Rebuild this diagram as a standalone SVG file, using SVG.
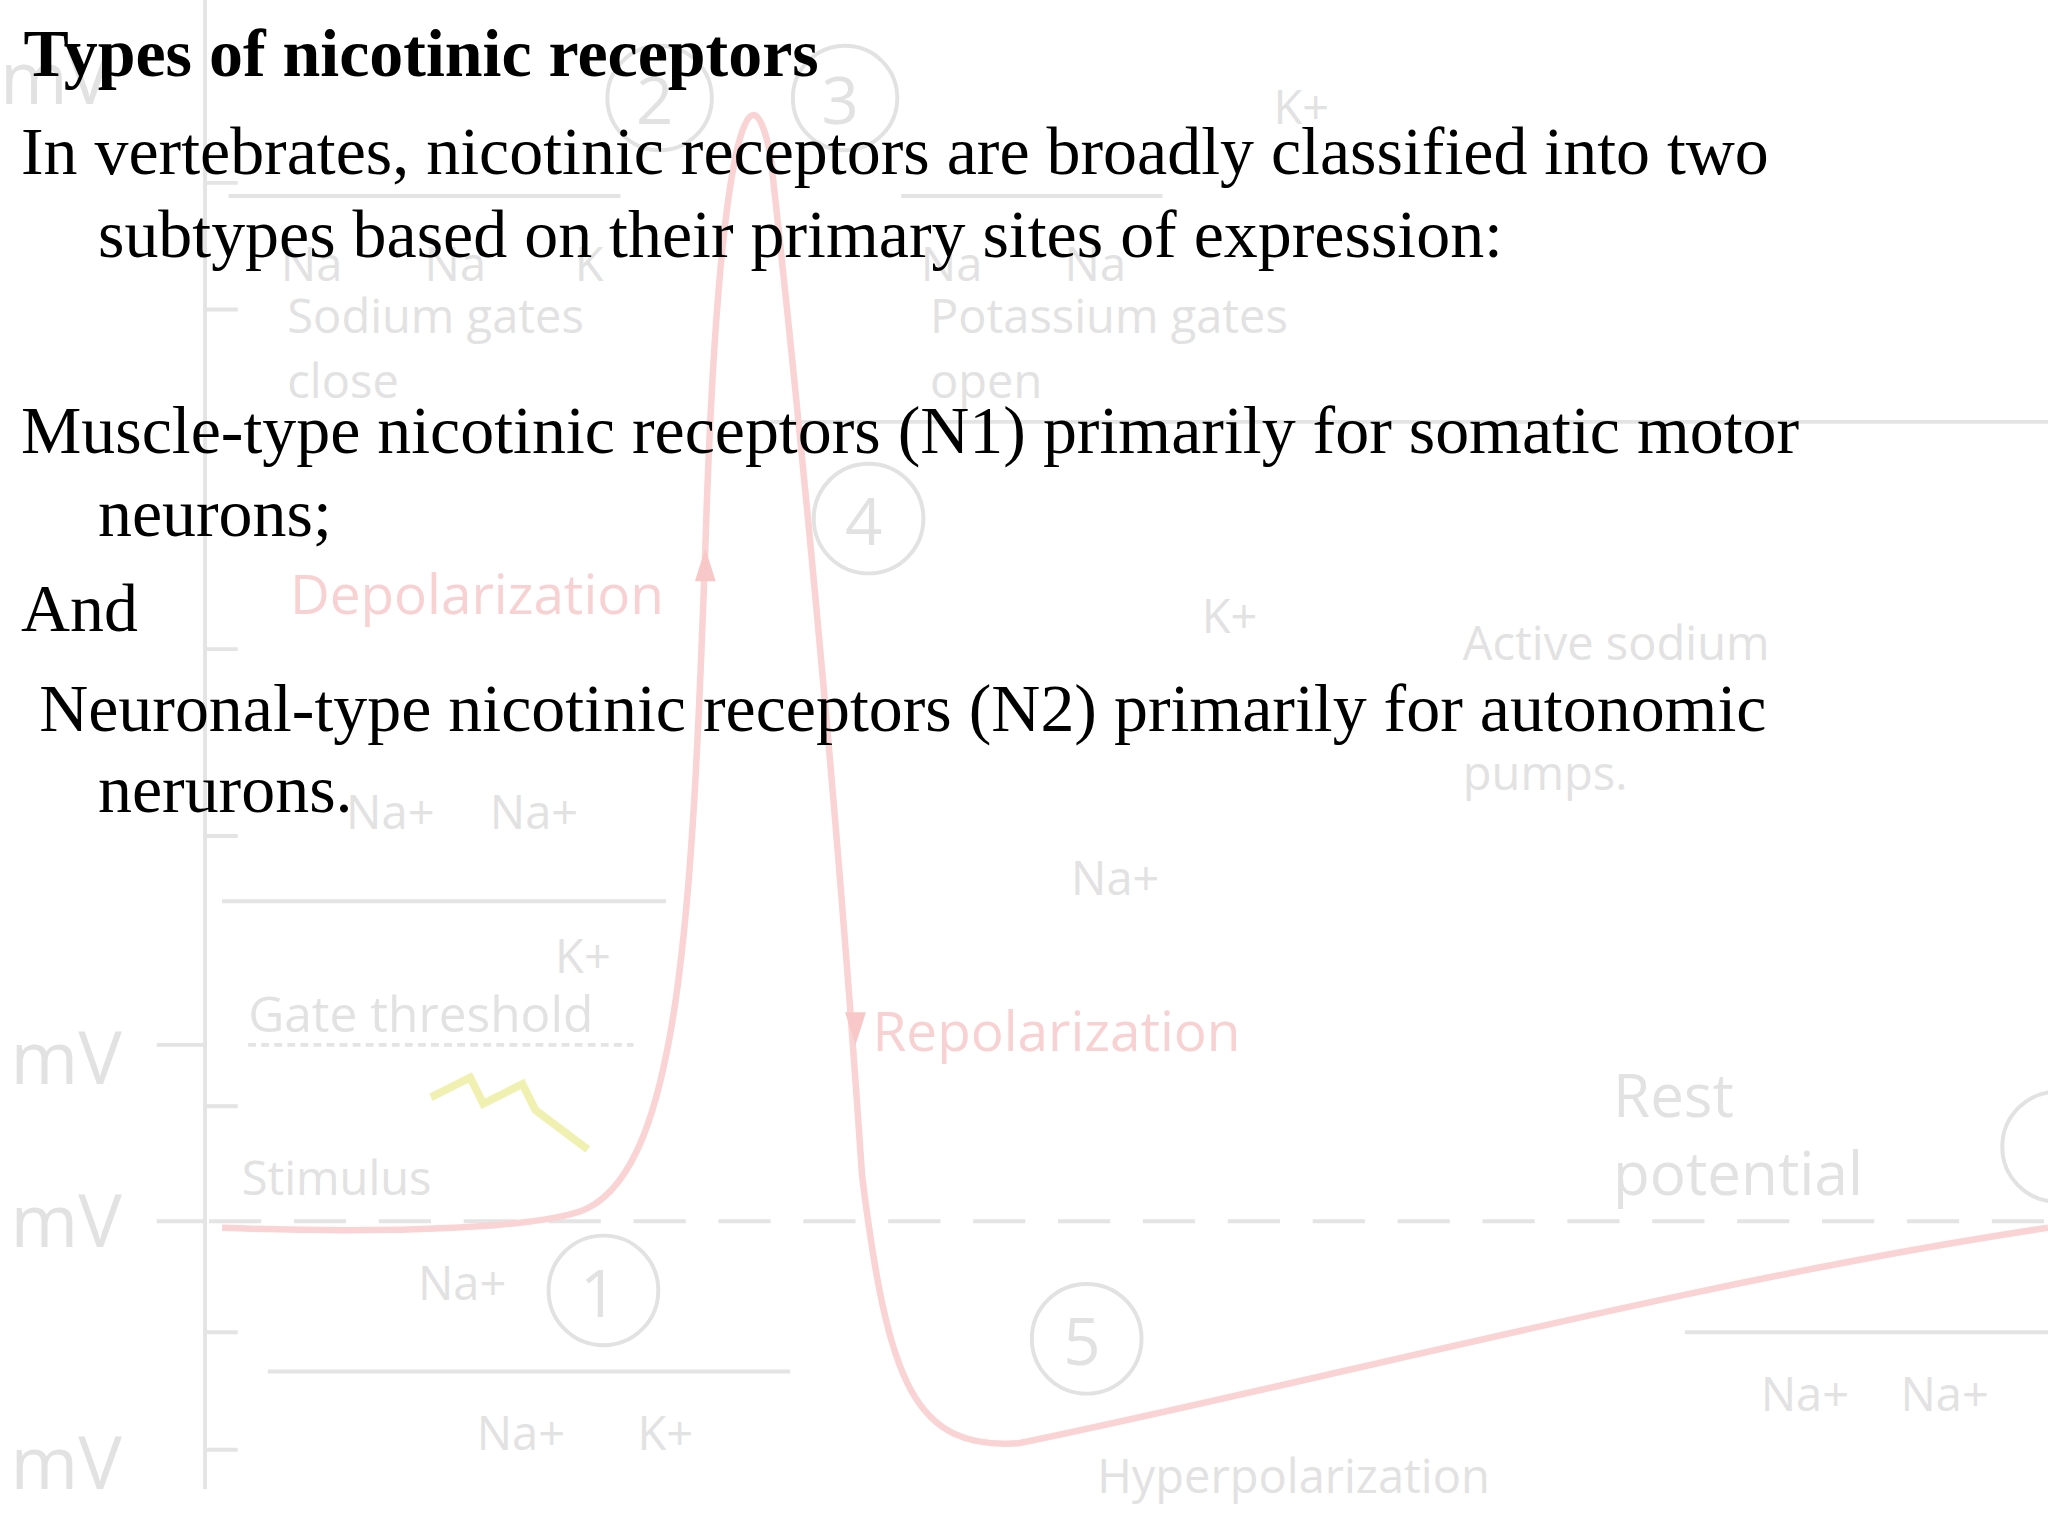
<svg xmlns="http://www.w3.org/2000/svg" width="2048" height="1536" viewBox="0 0 2048 1536">
<style>
.bg{font-family:"Open Sans","DejaVu Sans",sans-serif;fill:#e2e2e2}
.pk{font-family:"Open Sans","DejaVu Sans",sans-serif;fill:#f8d2d2}
.ln{stroke:#e4e4e4;stroke-width:3;fill:none}
.cir{stroke:#e2e2e2;stroke-width:3;fill:none}
.t{font-family:"Liberation Serif","Times New Roman",serif;font-size:52px;fill:#000}
</style>
<rect width="2048" height="1536" fill="#fff"/>
<g transform="scale(1.30612)">
<g id="background">
<line class="ln" x1="157" y1="0" x2="157" y2="1140"/>
<path class="ln" d="M157 140h25M157 237h25M157 497h25M157 640h25M157 847h25M157 1020h25M120 800h37M120 935h37M157 1110h25"/>
<line class="ln" x1="590" y1="323" x2="1568" y2="323"/>
<line class="ln" x1="160" y1="935" x2="1568" y2="935" stroke-dasharray="40,25"/>
<line class="ln" x1="190" y1="800" x2="485" y2="800" stroke-dasharray="6,4"/>
<path d="M170 940 C300 945 420 940 450 925 C520 890 530 700 540 420 C550 100 575 40 590 120 C610 300 640 600 660 900 C680 1060 700 1110 780 1105 C1000 1060 1300 980 1568 940" fill="none" stroke="#fad4d4" stroke-width="5"/>
<path d="M540 420l-8 25h16z M655 800l-8 -25h16z" fill="#f8c8c8"/>
<text class="bg" x="8" y="830" font-size="56">mV</text>
<text class="bg" x="8" y="955" font-size="56">mV</text>
<text class="bg" x="8" y="1140" font-size="56">mV</text>
<text class="bg" x="0" y="80" font-size="56">mV</text>
<text class="pk" x="222" y="470" font-size="42">Depolarization</text>
<text class="pk" x="668" y="805" font-size="42">Repolarization</text>
<text class="bg" x="840" y="1143" font-size="36">Hyperpolarization</text>
<text class="bg" x="1235" y="855" font-size="46">Rest</text>
<text class="bg" x="1235" y="915" font-size="46">potential</text>
<text class="bg" x="190" y="790" font-size="38">Gate threshold</text>
<text class="bg" x="185" y="915" font-size="36">Stimulus</text>
<text class="bg" x="220" y="255" font-size="36">Sodium gates</text>
<text class="bg" x="220" y="305" font-size="36">close</text>
<text class="bg" x="712" y="255" font-size="36">Potassium gates</text>
<text class="bg" x="712" y="305" font-size="36">open</text>
<text class="bg" x="1120" y="505" font-size="36">Active sodium</text>
<text class="bg" x="1120" y="605" font-size="36">pumps.</text>
<circle class="cir" cx="505" cy="75" r="40"/><text class="bg" x="487" y="95" font-size="50">2</text>
<circle class="cir" cx="647" cy="75" r="40"/><text class="bg" x="629" y="95" font-size="50">3</text>
<circle class="cir" cx="665" cy="397" r="42"/><text class="bg" x="647" y="417" font-size="50">4</text>
<circle class="cir" cx="832" cy="1025" r="42"/><text class="bg" x="814" y="1045" font-size="50">5</text>
<circle class="cir" cx="462" cy="988" r="42"/><text class="bg" x="444" y="1008" font-size="50">1</text>
<circle class="cir" cx="1575" cy="878" r="42"/>
<text class="bg" x="975" y="95" font-size="36">K+</text>
<text class="bg" x="920" y="485" font-size="36">K+</text>
<text class="bg" x="820" y="685" font-size="36">Na+</text>
<text class="bg" x="265" y="635" font-size="36">Na+</text>
<text class="bg" x="375" y="635" font-size="36">Na+</text>
<text class="bg" x="425" y="745" font-size="36">K+</text>
<text class="bg" x="320" y="995" font-size="36">Na+</text>
<text class="bg" x="365" y="1110" font-size="36">Na+</text>
<text class="bg" x="488" y="1110" font-size="36">K+</text>
<text class="bg" x="1348" y="1080" font-size="36">Na+</text>
<text class="bg" x="1455" y="1080" font-size="36">Na+</text>
<text class="bg" x="215" y="215" font-size="36">Na</text>
<text class="bg" x="325" y="215" font-size="36">Na</text>
<text class="bg" x="440" y="215" font-size="36">K</text>
<text class="bg" x="705" y="215" font-size="36">Na</text>
<text class="bg" x="815" y="215" font-size="36">Na</text>
<path class="ln" d="M175 150h300M690 150h200M170 690h340M205 1050h400M1290 1020h278"/>
<path d="M330 840l30 -15 10 20 30 -15 10 20 40 30" fill="none" stroke="#f0f0b0" stroke-width="6"/>
</g>
<g id="text">
<text class="t" x="18" y="58" font-weight="bold">Types of nicotinic receptors</text>
<text class="t" x="16" y="133">In vertebrates, nicotinic receptors are broadly classified into two</text>
<text class="t" x="75" y="197">subtypes based on their primary sites of expression:</text>
<text class="t" x="16" y="347">Muscle-type nicotinic receptors (N1) primarily for somatic motor</text>
<text class="t" x="75" y="410">neurons;</text>
<text class="t" x="16" y="483">And</text>
<text class="t" x="30" y="560">Neuronal-type nicotinic receptors (N2) primarily for autonomic</text>
<text class="t" x="75" y="622">nerurons.</text>
</g>
</g>
</svg>
